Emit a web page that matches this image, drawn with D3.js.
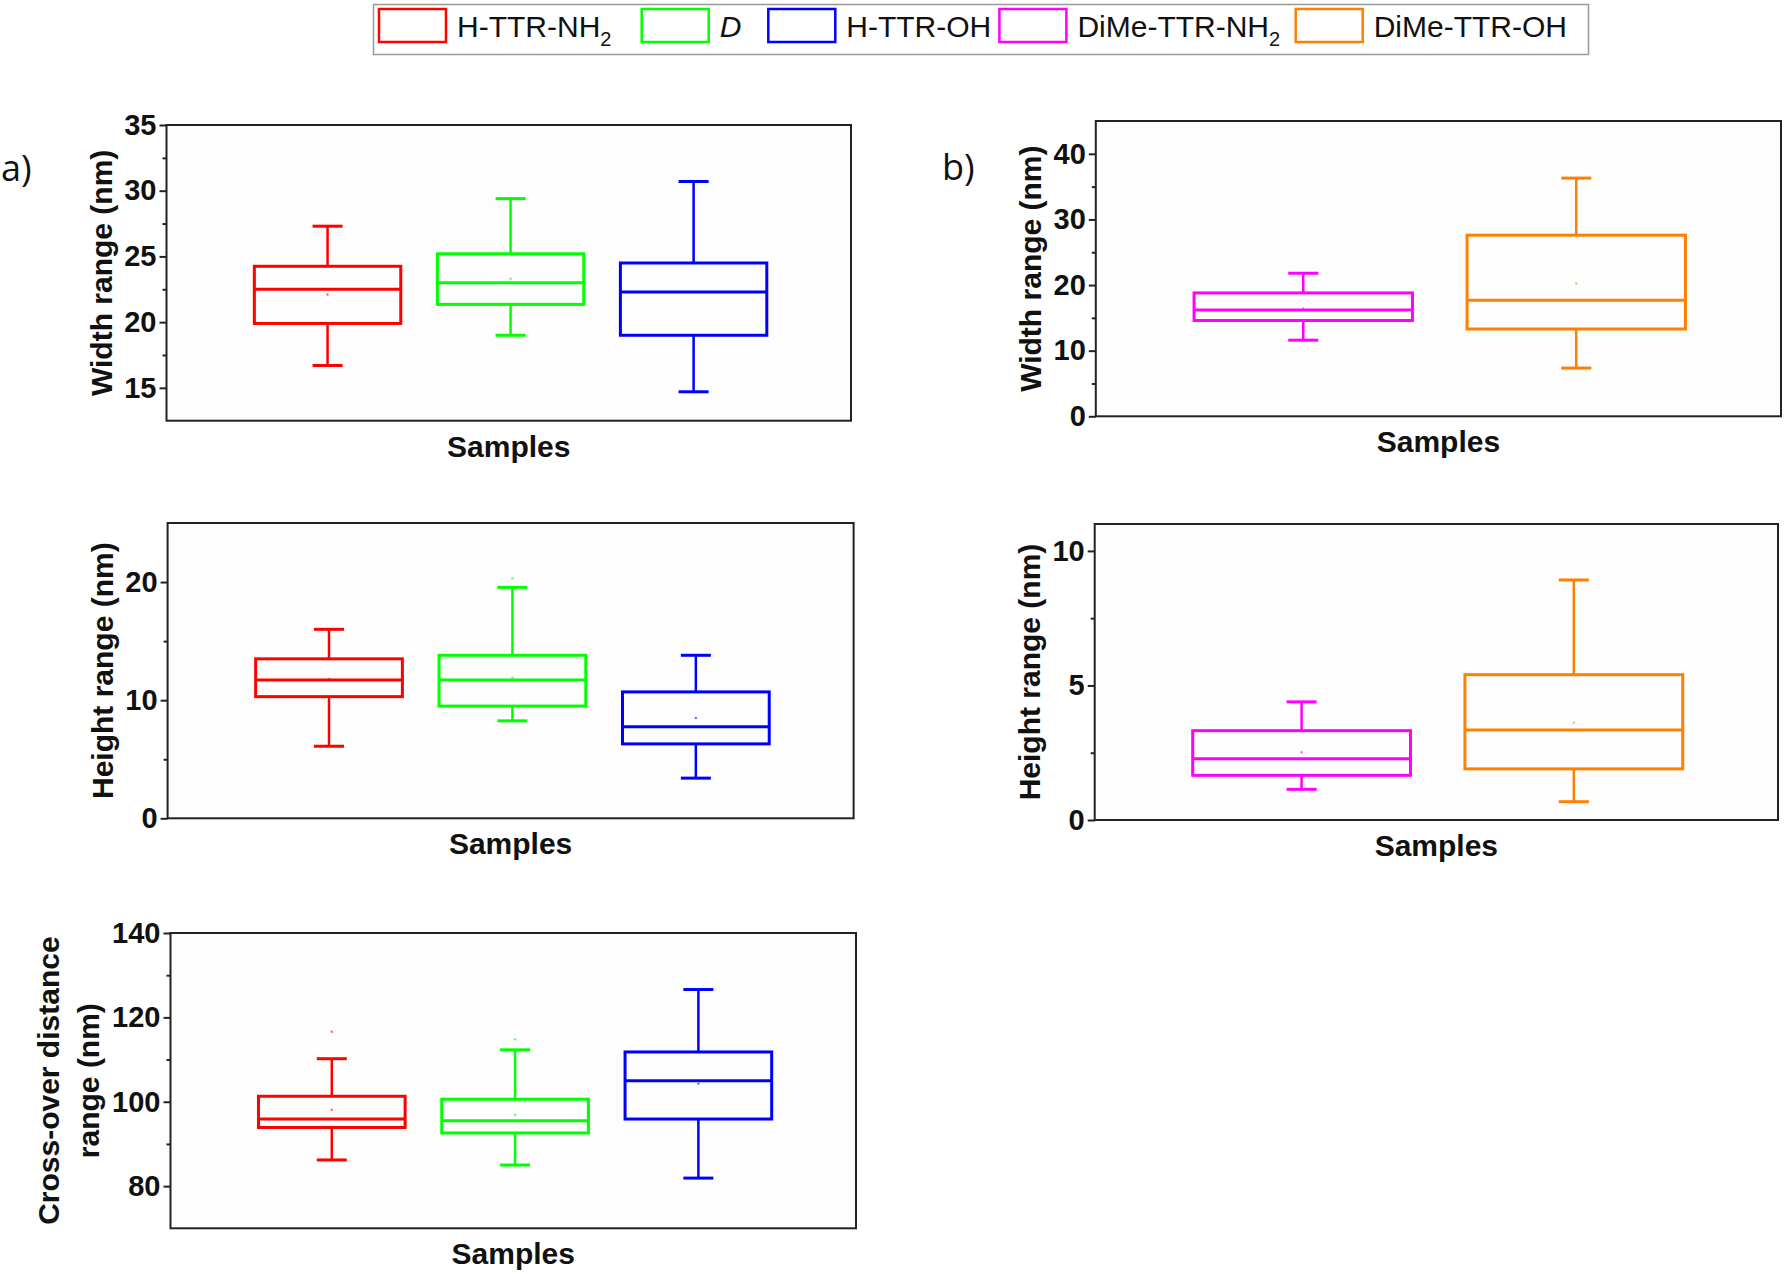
<!DOCTYPE html>
<html>
<head>
<meta charset="utf-8">
<script src="https://cdn.jsdelivr.net/npm/d3@7"></script>
<style>
  body { margin: 0; background: #fff; }
  text { font-family: "Liberation Sans", Arial, sans-serif; }
</style>
</head>
<body>
<script>
// sample names and colours
const groupsA = ["H-TTR-NH2", "D", "H-TTR-OH"];
const groupsB = ["DiMe-TTR-NH2", "DiMe-TTR-OH"];
const colorsA = ["#ff0000", "#00ff00", "#0000ff"];
const colorsB = ["#ff00ff", "#ff8000"];

// box stats: [lower whisker, Q1, median, Q3, upper whisker]
const widthA = [[16.7, 19.9, 22.5, 24.25, 27.3], [19.0, 21.35, 23.0, 25.2, 29.4], [14.7, 19.0, 22.3, 24.5, 30.7]];
const widthAMean = [22.1, 23.3, 22.3];
const heightA = [[6.1, 10.3, 11.7, 13.5, 16.0], [8.25, 9.5, 11.7, 13.8, 19.55], [3.4, 6.3, 7.75, 10.7, 13.8]];
const heightAMean = [11.8, 11.9, 8.5];
const heightAOutlier = [null, 20.3, null];
const crossA = [[86.2, 93.9, 95.9, 101.3, 110.2], [85.0, 92.6, 95.5, 100.6, 112.3], [81.9, 95.9, 105.0, 111.8, 126.6]];
const crossAMean = [98.1, 96.9, 104.3];
const crossAOutlier = [116.6, 114.8, null];
const widthB = [[11.6, 14.6, 16.2, 18.8, 21.8], [7.35, 13.3, 17.7, 27.6, 36.3]];
const widthBMean = [16.4, 20.25];
const heightB = [[1.14, 1.66, 2.28, 3.32, 4.39], [0.68, 1.90, 3.34, 5.40, 8.92]];
const heightBMean = [2.52, 3.62];

// axis ticks
const widthATicks = [15, 20, 25, 30, 35], widthAMinor = [17.5, 22.5, 27.5, 32.5];
const heightATicks = [0, 10, 20], heightAMinor = [5, 15];
const crossATicks = [80, 100, 120, 140], crossAMinor = [90, 110, 130];
const widthBTicks = [0, 10, 20, 30, 40], widthBMinor = [5, 15, 25, 35];
const heightBTicks = [0, 5, 10], heightBMinor = [2.5, 7.5];

const svg = d3.select('body').append('svg')
    .attr('width', 1785)
    .attr('height', 1274);

const panels = [
    { left: 166.5, top: 125, right: 851, bottom: 420.7, xDomain: [0.12, 3.86], yDomain: [12.5, 35],
      groups: groupsA, colors: colorsA, stats: widthA, means: widthAMean, ticks: widthATicks, minor: widthAMinor,
      title: ["Width range (nm)"] },
    { left: 167.6, top: 523, right: 853.6, bottom: 818.3, xDomain: [0.12, 3.86], yDomain: [0, 25],
      groups: groupsA, colors: colorsA, stats: heightA, means: heightAMean, outliers: heightAOutlier,
      ticks: heightATicks, minor: heightAMinor, title: ["Height range (nm)"] },
    { left: 170.5, top: 933, right: 856, bottom: 1228.3, xDomain: [0.12, 3.86], yDomain: [70, 140],
      groups: groupsA, colors: colorsA, stats: crossA, means: crossAMean, outliers: crossAOutlier,
      ticks: crossATicks, minor: crossAMinor, title: ["Cross-over distance", "range (nm)"] },
    { left: 1095.8, top: 121, right: 1781, bottom: 416.3, xDomain: [0.24, 2.75], yDomain: [0, 45],
      groups: groupsB, colors: colorsB, stats: widthB, means: widthBMean, ticks: widthBTicks, minor: widthBMinor,
      title: ["Width range (nm)"] },
    { left: 1094.7, top: 524, right: 1778, bottom: 820, xDomain: [0.24, 2.75], yDomain: [0, 11],
      groups: groupsB, colors: colorsB, stats: heightB, means: heightBMean, ticks: heightBTicks, minor: heightBMinor,
      title: ["Height range (nm)"] }
];

function drawPanel(p) {
    const g = svg.append('g');
    const x = d3.scaleLinear().domain(p.xDomain).range([p.left, p.right]);
    const y = d3.scaleLinear().domain(p.yDomain).range([p.bottom, p.top]);

    g.append('rect')
        .attr('x', p.left).attr('y', p.top)
        .attr('width', p.right - p.left).attr('height', p.bottom - p.top)
        .attr('fill', '#fdfdfd');

    const minorAxis = g.append('g')
        .attr('transform', `translate(${p.left},0)`)
        .call(d3.axisLeft(y).tickValues(p.minor).tickSize(4).tickFormat(''));
    minorAxis.select('.domain').remove();
    minorAxis.selectAll('line').attr('stroke', '#222').attr('stroke-width', 2);

    const axis = g.append('g')
        .attr('transform', `translate(${p.left},0)`)
        .call(d3.axisLeft(y).tickValues(p.ticks).tickSize(7).tickPadding(3));
    axis.select('.domain').remove();
    axis.selectAll('line').attr('stroke', '#222').attr('stroke-width', 2);
    axis.selectAll('text')
        .attr('font-size', 29)
        .attr('font-weight', 'bold')
        .attr('fill', '#111')
        .style('font-family', '"Liberation Sans", Arial, sans-serif');

    const boxes = p.groups.map((name, i) => ({
        name, pos: i + 1, color: p.colors[i], s: p.stats[i], mean: p.means[i],
        outlier: p.outliers ? p.outliers[i] : null
    }));

    const b = g.selectAll('g.box')
        .data(boxes)
        .enter()
        .append('g')
        .attr('class', 'box')
        .attr('stroke', d => d.color)
        .attr('fill', 'none')
        .attr('stroke-width', 3);

    // whiskers
    b.append('line')
        .attr('x1', d => x(d.pos)).attr('x2', d => x(d.pos))
        .attr('y1', d => y(d.s[3])).attr('y2', d => y(d.s[4]))
        .attr('stroke-width', 2.5);
    b.append('line')
        .attr('x1', d => x(d.pos)).attr('x2', d => x(d.pos))
        .attr('y1', d => y(d.s[1])).attr('y2', d => y(d.s[0]))
        .attr('stroke-width', 2.5);
    b.append('line')
        .attr('x1', d => x(d.pos) - 15).attr('x2', d => x(d.pos) + 15)
        .attr('y1', d => y(d.s[4])).attr('y2', d => y(d.s[4]));
    b.append('line')
        .attr('x1', d => x(d.pos) - 15).attr('x2', d => x(d.pos) + 15)
        .attr('y1', d => y(d.s[0])).attr('y2', d => y(d.s[0]));

    // box and median
    b.append('rect')
        .attr('x', d => x(d.pos - 0.4))
        .attr('width', d => x(d.pos + 0.4) - x(d.pos - 0.4))
        .attr('y', d => y(d.s[3]))
        .attr('height', d => y(d.s[1]) - y(d.s[3]));
    b.append('line')
        .attr('x1', d => x(d.pos - 0.4)).attr('x2', d => x(d.pos + 0.4))
        .attr('y1', d => y(d.s[2])).attr('y2', d => y(d.s[2]));

    // mean and outlier markers (tiny dots)
    b.append('circle')
        .attr('cx', d => x(d.pos)).attr('cy', d => y(d.mean))
        .attr('r', 1.2).attr('stroke', 'none').attr('fill', d => d.color).attr('opacity', 0.6);
    b.filter(d => d.outlier != null).append('circle')
        .attr('cx', d => x(d.pos)).attr('cy', d => y(d.outlier))
        .attr('r', 1.2).attr('stroke', 'none').attr('fill', d => d.color).attr('opacity', 0.6);

    // frame
    g.append('rect')
        .attr('x', p.left).attr('y', p.top)
        .attr('width', p.right - p.left).attr('height', p.bottom - p.top)
        .attr('fill', 'none').attr('stroke', '#222').attr('stroke-width', 2);

    // titles
    const cy = (p.top + p.bottom) / 2;
    const offsets = p.title.length === 1 ? [55] : [112, 72];
    p.title.forEach((t, i) => {
        g.append('text')
            .attr('transform', `translate(${p.left - offsets[i]},${cy}) rotate(-90)`)
            .attr('text-anchor', 'middle')
            .attr('font-size', 30)
            .attr('font-weight', 'bold')
            .attr('fill', '#111')
            .text(t);
    });
    g.append('text')
        .attr('x', (p.left + p.right) / 2)
        .attr('y', p.bottom + 36)
        .attr('text-anchor', 'middle')
        .attr('font-size', 30)
        .attr('font-weight', 'bold')
        .attr('fill', '#111')
        .text('Samples');
}

panels.forEach(drawPanel);

// panel letters
svg.append('text').attr('x', 1).attr('y', 181)
    .style('font-family', '"Open Sans", sans-serif').attr('font-size', 36).attr('fill', '#111').text('a)');
svg.append('text').attr('x', 942).attr('y', 180)
    .style('font-family', '"Open Sans", sans-serif').attr('font-size', 36).attr('fill', '#111').text('b)');

// legend
const legendNames = groupsA.concat(groupsB);
const legendColors = colorsA.concat(colorsB);
const legendX = [379, 641.7, 768.3, 999.4, 1295.7];

svg.append('rect')
    .attr('x', 373.5).attr('y', 4.5).attr('width', 1215).attr('height', 50)
    .attr('fill', '#fff').attr('stroke', '#999').attr('stroke-width', 1.5);

const items = svg.selectAll('g.legend')
    .data(legendNames)
    .enter()
    .append('g')
    .attr('class', 'legend')
    .attr('transform', (_, i) => `translate(${legendX[i]},0)`);

items.append('rect')
    .attr('x', 0).attr('y', 9).attr('width', 67).attr('height', 33)
    .attr('fill', 'none')
    .attr('stroke', (_, i) => legendColors[i])
    .attr('stroke-width', 2.5);

items.each(function (name) {
    const t = d3.select(this).append('text')
        .attr('x', 78).attr('y', 37)
        .attr('font-size', 30)
        .attr('fill', '#111');
    if (name === 'D') {
        t.attr('font-style', 'italic').text(name);
    } else if (name.endsWith('NH2')) {
        t.append('tspan').text(name.slice(0, -1));
        t.append('tspan').attr('font-size', 20).attr('dy', 9).text('2');
    } else {
        t.text(name);
    }
});
</script>
</body>
</html>
